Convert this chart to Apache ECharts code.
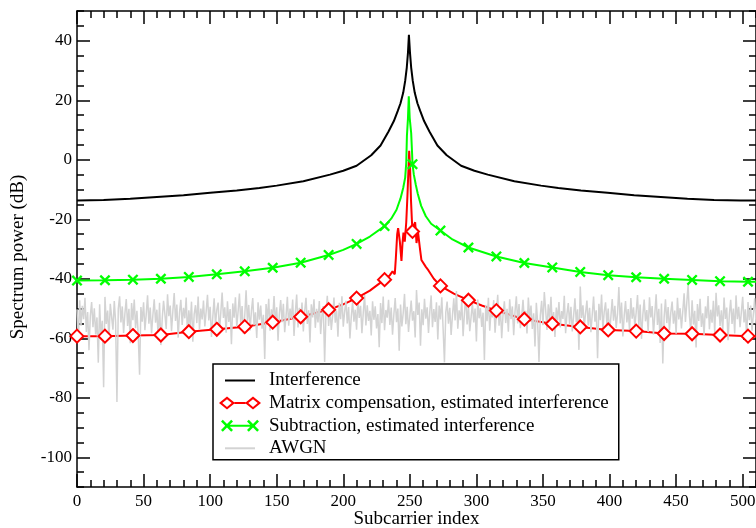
<!DOCTYPE html>
<html><head><meta charset="utf-8">
<script src="https://cdn.jsdelivr.net/npm/echarts@6/dist/echarts.min.js"></script>
<style>html,body{margin:0;padding:0;background:#fff}#c{width:756px;height:528px}</style>
</head><body><div id="c"></div>
<script>
const xTicks=[0,50,100,150,200,250,300,350,400,450,500];
const yTicks=[-100,-80,-60,-40,-20,0,20,40];

const interfX=[0,20,40,60,80,100,120,137,150,170,190,200,210,221,228,234,238,241,243,245,246.5,247.7,248.6,249.3,250.1,251.0,252.2,253.7,255.7,257.7,260.7,264.7,270.7,277.7,288.5,298.5,308.5,328.5,348.5,361.5,378.5,398.5,418.5,438.5,458.5,478.5,498.5,510];
const interfY=[-13.7,-13.5,-13.1,-12.5,-11.9,-11.1,-10.3,-9.5,-8.7,-7.2,-5.0,-3.7,-2.0,1.5,4.8,9.5,13,16.5,19,22.5,26.5,31,36,42,36,31,26.5,22.5,19,16.5,13,9.5,4.8,1.5,-2.0,-3.7,-5.0,-7.2,-8.7,-9.5,-10.3,-11.1,-11.9,-12.5,-13.1,-13.5,-13.7,-13.7];

const matrixX=[0,21,42,63,84,105,126,147,168,189,200,210,220,231,235,237,238.7,239.5,240.5,241.2,242.5,243.7,244.5,245.2,246.2,247.3,248.2,248.9,249.5,250.2,250.9,251.5,252,253,254,255,256.2,257.5,258.7,260,262,264,268,273,283,294,304,315,336,357,378,399,420,441,462,483,504,510];
const matrixY=[-59.3,-59.3,-59.1,-58.9,-57.8,-57.0,-56.1,-54.6,-52.8,-50.4,-48.6,-46.5,-44.0,-40.3,-38.8,-37.5,-38.5,-33,-25,-23,-27.5,-34,-28,-24.5,-27.5,-21,-12,-4,3,-3,-14,-20,-24.1,-22,-21,-28,-24.5,-29.5,-33.7,-34.2,-36,-37.2,-40,-42.4,-45,-47.2,-49,-50.7,-53.6,-55.1,-56.2,-57.2,-57.6,-58.4,-58.5,-58.9,-59.3,-59.3];

const subX=[0,21,42,63,84,105,126,147,168,189,200,210,220,231,236,240,243,245,246.5,247.3,247.8,248.6,249.2,249.9,251,251.7,252,253,254.5,256,258.5,262,266,273,282,294,315,336,357,378,399,420,441,462,483,504,510];
const subY=[-40.6,-40.5,-40.3,-40.0,-39.4,-38.5,-37.5,-36.3,-34.6,-32.0,-30.3,-28.3,-25.8,-22.3,-19.8,-16.8,-13,-9.5,-6,-1,8,14,21.3,14,9,2,-1.5,-5,-8.5,-11.5,-15.5,-19,-21.5,-23.8,-26.8,-29.5,-32.5,-34.7,-36.2,-37.7,-38.8,-39.5,-40.0,-40.4,-40.8,-41.0,-41.0];

const awgn=[
-50.3,-61.0,-47.2,-55.8,-49.1,-53.6,-46.4,-57.9,-51.2,-64.0,-52.5,-47.8,-56.3,-49.9,-58.7,-53.0,
-68.2,-48.6,-59.4,-54.1,-76.5,-46.1,-55.2,-50.7,-60.3,-48.4,-52.8,-57.1,-47.5,-54.6,-81.4,-50.2,
-45.9,-54.7,-49.3,-58.2,-51.6,-46.8,-55.9,-50.1,-61.7,-48.2,-53.9,-47.0,-56.6,-50.8,-59.0,-72.3,
-49.5,-54.4,-47.9,-57.3,-51.9,-45.6,-55.1,-49.7,-58.4,-52.2,-46.9,-54.8,-50.4,-60.5,-48.1,-62.3,
-53.5,-47.4,-51.8,-56.9,-45.2,-52.6,-49.0,-57.6,-50.9,-44.8,-54.2,-48.7,-59.8,-51.4,-47.1,-55.5,
-49.8,-53.3,-46.3,-58.9,-50.6,-55.7,-47.7,-61.2,-52.0,-48.9,-54.9,-46.0,-57.0,-50.0,-53.7,-47.3,
-56.0,-51.1,-45.4,-54.0,-49.4,-59.6,-52.9,-46.6,-55.4,-50.5,-48.0,-57.8,-51.5,-44.6,-53.2,-49.6,
-58.1,-47.6,-54.5,-50.2,-62.0,-48.3,-53.1,-46.2,-56.2,-51.0,-45.0,-55.0,-49.2,-58.5,-52.4,-43.9,
-54.3,-48.8,-57.4,-50.9,-46.5,-55.6,-51.3,-59.9,-47.9,-53.8,-49.0,-56.8,-52.1,-67.0,-48.5,-54.0,
-46.7,-57.5,-50.3,-53.4,-45.8,-55.3,-49.6,-60.8,-51.7,-47.2,-54.6,-48.4,-58.0,-52.7,-46.1,-55.8,
-50.0,-53.5,-47.0,-59.2,-51.4,-45.3,-56.4,-49.8,-54.1,-48.0,-57.7,-51.0,-46.4,-55.2,-50.6,-61.4,
-48.6,-53.0,-46.9,-56.5,-50.1,-54.7,-47.5,-58.6,-52.3,-49.2,-68.0,-51.8,-45.7,-55.9,-49.9,-57.2,
-52.6,-46.3,-54.8,-50.7,-59.5,-48.1,-53.6,-45.9,-56.1,-51.2,-47.4,-55.0,-49.5,-60.1,-52.8,-47.8,
-54.4,-50.4,-57.1,-46.8,-53.2,-49.1,-58.3,-51.5,-45.5,-55.7,-48.9,-54.2,-50.8,-59.1,-47.6,-53.8,
-49.3,-56.7,-51.9,-63.0,-48.2,-54.9,-46.0,-57.3,-50.5,-53.1,-47.1,-55.5,-49.7,-58.8,-52.0,-46.5,
-54.6,-50.0,-64.2,-48.7,-56.0,-51.6,-45.1,-55.3,-49.4,-57.9,-52.5,-47.3,-54.1,-50.9,-59.7,-43.8,
-52.2,-48.0,-62.5,-50.3,-55.6,-46.7,-53.4,-49.6,-58.2,-51.1,-45.6,-56.3,-50.2,-54.5,-47.9,-60.4,
-49.0,-53.7,-46.2,-57.0,-68.1,-51.3,-47.7,-55.1,-49.8,-58.9,-52.4,-46.6,-54.0,-44.1,-56.8,-50.6,
-53.9,-47.5,-59.3,-51.7,-45.8,-55.4,-49.2,-57.6,-52.9,-48.3,-54.7,-50.0,-61.1,-47.0,-53.3,-49.9,
-56.2,-51.4,-67.3,-48.8,-54.3,-46.4,-57.5,-50.7,-53.0,-47.2,-58.1,-51.8,-45.4,-55.8,-49.5,-60.0,
-52.1,-47.6,-54.9,-50.1,-57.8,-46.9,-53.6,-49.3,-59.0,-51.0,-45.9,-55.0,-48.5,-56.6,-52.7,-47.1,
-54.2,-50.8,-58.4,-46.3,-53.1,-49.0,-56.9,-51.6,-62.8,-48.1,-54.8,-68.0,-52.3,-47.4,-55.6,-44.5,
-50.4,-57.2,-48.6,-53.8,-46.1,-55.9,-51.2,-59.6,-49.7,-54.0,-47.8,-56.4,-50.9,-53.5,-45.7,-58.3,
-51.9,-48.2,-55.2,-49.4,-57.7,-52.6,-46.6,-54.6,-50.3,-63.9,-42.6,-53.2,-48.9,-56.1,-51.5,-47.3,
-55.7,-49.8,-58.0,-52.0,-46.0,-54.4,-50.6,-66.7,-48.4,-53.9,-45.3,-57.1,-51.1,-47.9,-55.3,-50.0,
-58.6,-52.8,-46.8,-54.1,-49.1,-56.5,-51.7,-42.8,-55.0,-48.0,-59.4,-52.5,-47.5,-54.7,-50.2,-57.4,
-46.5,-53.4,-49.6,-56.0,-51.3,-45.5,-55.8,-48.7,-60.2,-52.2,-47.0,-54.3,-50.5,-57.9,-46.2,-53.0,
-49.2,-58.7,-51.8,-45.2,-55.5,-50.1,-61.6,-48.3,-68.5,-52.9,-46.9,-54.9,-49.5,-57.3,-51.4,-47.7,
-55.1,-50.7,-58.5,-46.4,-53.7,-49.9,-56.7,-51.0,-44.9,-54.5,-48.1,-42.0,-52.4,-57.6,-47.2,-55.4,
-50.8,-63.1,-48.5,-54.2,-46.7,-56.2,-51.6,-59.1,-49.3,-53.3,-45.8,-57.0,-50.4,-54.8,-47.4,-58.2,
-44.7,-52.7,-48.9,-55.9,-50.6,-57.8,-46.3,-53.5,-49.7,-60.7,-51.9,-47.1,-55.2,-50.0,-58.4,-45.6,
-53.6,-49.4,-56.3,-51.2,-46.1,-54.7,-50.3,-59.8,-47.8,-53.9,-49.0,-57.5,-52.0,-46.6,-55.0,-51.5
];

const FONT='Liberation Serif, Times New Roman, serif';
const BLACK='#000';
const RED='#ff0000', GREEN='#00ff00', GRAY='#d3d3d3';
const XSYM='path://M0,1.5L1.5,0L5,3.5L8.5,0L10,1.5L6.5,5L10,8.5L8.5,10L5,6.5L1.5,10L0,8.5L3.5,5Z';
// legend icons drawn in a 42x14 box
const ICON_LINE='path://M0,0M42,14M6,6L36,6L36,8L6,8Z';
const ICON_DIAM='path://M0,0M42,14M8,0.5L16,7L8,13.5L0,7ZM8,3.2L3.3,7L8,10.8L12.7,7ZM34,0.5L42,7L34,13.5L26,7ZM34,3.2L29.3,7L34,10.8L38.7,7ZM15.5,6L26.5,6L26.5,8L15.5,8Z';
const ICON_X='path://M0,0M42,14M2,2.8L3.8,1L8,5.2L12.2,1L14,2.8L9.8,7L14,11.2L12.2,13L8,8.8L3.8,13L2,11.2L6.2,7ZM28,2.8L29.8,1L34,5.2L38.2,1L40,2.8L35.8,7L40,11.2L38.2,13L34,8.8L29.8,13L28,11.2L32.2,7ZM8,6L34,6L34,8L8,8Z';

function pairs(xs,ys){return xs.map((x,i)=>[x,ys[i]]);}
function marked(xs,ys){return xs.map((x,i)=>(x%21===0)?{value:[x,ys[i]]}:{value:[x,ys[i]],symbol:'none'});}

const tickLine={color:BLACK,width:1.5};
function xAx(pos,major){
  const a={type:'value',min:0,max:510,position:pos,splitLine:{show:false},
    axisLine:{show:major,onZero:false,lineStyle:tickLine},
    axisTick:{show:true,inside:true,length:major?13:7,lineStyle:tickLine},
    axisLabel:{show:false}};
  if(major){a.axisTick.customValues=xTicks;}else{a.interval=10;}
  return a;
}
function yAx(pos,major){
  const a={type:'value',min:-110,max:50,position:pos,splitLine:{show:false},
    axisLine:{show:major,onZero:false,lineStyle:tickLine},
    axisTick:{show:true,inside:true,length:major?13:7,lineStyle:tickLine},
    axisLabel:{show:false}};
  if(major){a.axisTick.customValues=yTicks;}else{a.interval=5;}
  return a;
}
const xb=xAx('bottom',true);
xb.axisLabel={show:true,customValues:xTicks,color:BLACK,fontFamily:FONT,fontSize:17,margin:6};
xb.name='Subcarrier index';xb.nameLocation='middle';xb.nameGap=23;xb.nameMoveOverlap=false;
xb.nameTextStyle={color:BLACK,fontFamily:FONT,fontSize:19};
const yl=yAx('left',true);
yl.axisLabel={show:true,customValues:yTicks,color:BLACK,fontFamily:FONT,fontSize:17,margin:5};
yl.name='Spectrum power (dB)';yl.nameLocation='middle';yl.nameGap=49;
yl.nameTextStyle={color:BLACK,fontFamily:FONT,fontSize:19,padding:[0,16,0,0]};

const chart=echarts.init(document.getElementById('c'));
chart.setOption({
  animation:false,
  backgroundColor:'#fff',
  grid:{left:77,top:11,right:0,bottom:41,containLabel:false,outerBoundsMode:'none'},
  xAxis:[xb,xAx('bottom',false),xAx('top',true),xAx('top',false)],
  yAxis:[yl,yAx('left',false),yAx('right',true),yAx('right',false)],
  legend:{
    orient:'vertical',left:213,top:364,
    padding:[7,10,2,6],itemWidth:42,itemHeight:14,itemGap:3.6,symbolKeepAspect:false,
    borderColor:'#000',borderWidth:1.5,backgroundColor:'#fff',
    textStyle:{color:BLACK,fontFamily:FONT,fontSize:19,padding:[0,0,0,3]},
    data:[
      {name:'Interference',icon:ICON_LINE,itemStyle:{color:BLACK,borderWidth:0}},
      {name:'Matrix compensation, estimated interference',icon:ICON_DIAM,itemStyle:{color:RED,borderWidth:0}},
      {name:'Subtraction, estimated interference',icon:ICON_X,itemStyle:{color:GREEN,borderWidth:0}},
      {name:'AWGN',icon:ICON_LINE,itemStyle:{color:GRAY,borderWidth:0}}
    ]
  },
  series:[
    {name:'Interference',type:'line',data:pairs(interfX,interfY),symbol:'none',
     lineStyle:{color:BLACK,width:2},itemStyle:{color:BLACK}},
    {name:'Matrix compensation, estimated interference',type:'line',data:marked(matrixX,matrixY),
     symbol:'emptyDiamond',symbolSize:13,showAllSymbol:true,
     lineStyle:{color:RED,width:2},itemStyle:{color:RED,borderColor:RED,borderWidth:2}},
    {name:'Subtraction, estimated interference',type:'line',data:marked(subX,subY),
     symbol:XSYM,symbolSize:11,showAllSymbol:true,
     lineStyle:{color:GREEN,width:2},itemStyle:{color:GREEN,borderWidth:0}},
    {name:'AWGN',type:'line',data:awgn.map((v,i)=>[i,v]),symbol:'none',
     lineStyle:{color:GRAY,width:1.5},itemStyle:{color:GRAY}}
  ]
});
</script></body></html>
